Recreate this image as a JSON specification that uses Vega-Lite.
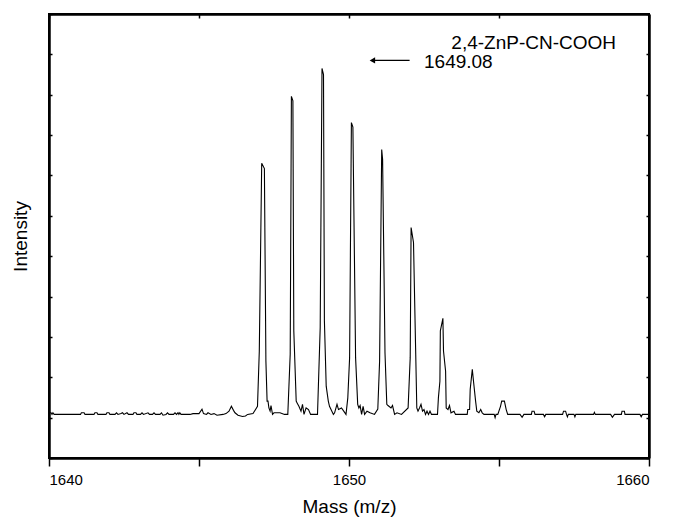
{
  "$schema": "https://vega.github.io/schema/vega-lite/v6.json",
  "width": 600,
  "height": 444,
  "autosize": {"type": "none"},
  "padding": {"left": 49, "top": 14, "right": 24, "bottom": 67},
  "background": "white",
  "config": {
    "font": "Liberation Sans",
    "view": {"stroke": "black", "strokeWidth": 2},
    "axis": {"domain": true, "domainColor": "black", "domainWidth": 2.5, "grid": false, "tickColor": "black", "labelColor": "black", "titleColor": "black", "titleFontWeight": "normal"}
  },
  "resolve": {"axis": {"x": "independent", "y": "independent"}},
  "layer": [
    {
      "data": {"values": [
        {"m":1640.0,"v":1.08},{"m":1640.03,"v":1.12},{"m":1640.07,"v":1.12},{"m":1640.1,"v":1.08},{"m":1640.13,"v":1.12},{"m":1640.17,"v":1.08},{"m":1640.5,"v":1.08},{"m":1641.05,"v":1.08},{"m":1641.08,"v":1.12},{"m":1641.17,"v":1.12},{"m":1641.2,"v":1.08},{"m":1641.5,"v":1.08},{"m":1641.53,"v":1.12},{"m":1641.6,"v":1.12},{"m":1641.63,"v":1.08},{"m":1641.9,"v":1.08},{"m":1641.93,"v":1.12},{"m":1642.0,"v":1.12},{"m":1642.03,"v":1.08},{"m":1642.2,"v":1.08},{"m":1642.25,"v":1.12},{"m":1642.3,"v":1.08},{"m":1642.4,"v":1.1},{"m":1642.45,"v":1.12},{"m":1642.5,"v":1.08},{"m":1642.6,"v":1.12},{"m":1642.65,"v":1.08},{"m":1642.8,"v":1.08},{"m":1642.83,"v":1.12},{"m":1642.9,"v":1.12},{"m":1642.93,"v":1.08},{"m":1643.05,"v":1.08},{"m":1643.1,"v":1.12},{"m":1643.15,"v":1.08},{"m":1643.3,"v":1.12},{"m":1643.35,"v":1.08},{"m":1643.45,"v":1.08},{"m":1643.5,"v":1.12},{"m":1643.55,"v":1.08},{"m":1643.7,"v":1.08},{"m":1643.75,"v":1.12},{"m":1643.8,"v":1.06},{"m":1643.9,"v":1.08},{"m":1643.95,"v":1.12},{"m":1644.0,"v":1.08},{"m":1644.15,"v":1.08},{"m":1644.2,"v":1.12},{"m":1644.25,"v":1.08},{"m":1644.3,"v":1.12},{"m":1644.33,"v":1.08},{"m":1644.36,"v":1.12},{"m":1644.4,"v":1.08},{"m":1644.7,"v":1.08},{"m":1644.8,"v":1.1},{"m":1645.0,"v":1.1},{"m":1645.1,"v":1.21},{"m":1645.15,"v":1.1},{"m":1645.25,"v":1.08},{"m":1645.3,"v":1.12},{"m":1645.4,"v":1.08},{"m":1645.5,"v":1.1},{"m":1645.6,"v":1.06},{"m":1645.8,"v":1.08},{"m":1645.9,"v":1.1},{"m":1646.0,"v":1.16},{"m":1646.08,"v":1.28},{"m":1646.15,"v":1.18},{"m":1646.2,"v":1.12},{"m":1646.3,"v":1.06},{"m":1646.45,"v":1.03},{"m":1646.55,"v":1.04},{"m":1646.62,"v":1.08},{"m":1646.8,"v":1.1},{"m":1646.95,"v":1.28},
        {"m":1647.01,"v":2.65},{"m":1647.09,"v":7.3},{"m":1647.18,"v":7.17},{"m":1647.23,"v":2.4},{"m":1647.27,"v":1.41},{"m":1647.3,"v":1.41},{"m":1647.33,"v":1.24},{"m":1647.37,"v":1.16},{"m":1647.4,"v":1.3},{"m":1647.45,"v":1.08},{"m":1647.5,"v":1.12},{"m":1647.7,"v":1.12},{"m":1647.85,"v":1.08},{"m":1647.96,"v":1.08},
        {"m":1648.04,"v":2.57},{"m":1648.08,"v":8.96},{"m":1648.13,"v":8.85},{"m":1648.16,"v":3.15},{"m":1648.24,"v":1.41},{"m":1648.27,"v":1.36},{"m":1648.33,"v":1.28},{"m":1648.4,"v":1.16},{"m":1648.45,"v":1.33},{"m":1648.5,"v":1.08},{"m":1648.57,"v":1.24},{"m":1648.65,"v":1.2},{"m":1648.72,"v":1.08},{"m":1648.95,"v":1.08},
        {"m":1649.04,"v":3.23},{"m":1649.1,"v":9.65},{"m":1649.15,"v":9.5},{"m":1649.18,"v":3.4},{"m":1649.24,"v":1.78},{"m":1649.31,"v":1.41},{"m":1649.35,"v":1.28},{"m":1649.48,"v":1.08},{"m":1649.52,"v":1.12},{"m":1649.6,"v":1.33},{"m":1649.65,"v":1.2},{"m":1649.75,"v":1.24},{"m":1649.9,"v":1.08},
        {"m":1649.96,"v":1.49},{"m":1650.02,"v":2.48},{"m":1650.08,"v":8.31},{"m":1650.13,"v":8.2},{"m":1650.22,"v":2.48},{"m":1650.29,"v":1.33},{"m":1650.33,"v":1.24},{"m":1650.37,"v":1.3},{"m":1650.42,"v":1.08},{"m":1650.47,"v":1.28},{"m":1650.52,"v":1.08},{"m":1650.6,"v":1.16},{"m":1650.7,"v":1.12},{"m":1650.85,"v":1.08},{"m":1650.96,"v":1.21},
        {"m":1651.02,"v":2.4},{"m":1651.09,"v":7.64},{"m":1651.12,"v":7.4},{"m":1651.2,"v":2.6},{"m":1651.26,"v":1.33},{"m":1651.3,"v":1.3},{"m":1651.4,"v":1.24},{"m":1651.45,"v":1.3},{"m":1651.52,"v":1.08},{"m":1651.6,"v":1.12},{"m":1651.75,"v":1.08},{"m":1651.97,"v":1.24},
        {"m":1652.04,"v":2.48},{"m":1652.07,"v":5.71},{"m":1652.15,"v":5.34},{"m":1652.22,"v":2.73},{"m":1652.26,"v":1.24},{"m":1652.3,"v":1.16},{"m":1652.35,"v":1.24},{"m":1652.4,"v":1.33},{"m":1652.45,"v":1.16},{"m":1652.5,"v":1.2},{"m":1652.55,"v":1.08},{"m":1652.6,"v":1.16},{"m":1652.65,"v":1.08},{"m":1652.7,"v":1.16},{"m":1652.75,"v":1.08},{"m":1652.95,"v":1.08},
        {"m":1652.98,"v":1.49},{"m":1653.03,"v":1.9},{"m":1653.045,"v":3.15},{"m":1653.13,"v":3.46},{"m":1653.15,"v":2.65},{"m":1653.22,"v":2.15},{"m":1653.24,"v":1.24},{"m":1653.3,"v":1.2},{"m":1653.35,"v":1.3},{"m":1653.4,"v":1.12},{"m":1653.5,"v":1.16},{"m":1653.55,"v":1.08},{"m":1653.94,"v":1.08},
        {"m":1653.96,"v":1.2},{"m":1654.02,"v":1.2},{"m":1654.04,"v":1.7},{"m":1654.11,"v":2.2},{"m":1654.15,"v":1.9},{"m":1654.22,"v":1.41},{"m":1654.26,"v":1.16},{"m":1654.33,"v":1.12},{"m":1654.39,"v":1.2},{"m":1654.44,"v":1.12},{"m":1654.5,"v":1.08},{"m":1654.84,"v":1.08},{"m":1654.87,"v":1.0},{"m":1654.9,"v":1.08},{"m":1654.96,"v":1.08},
        {"m":1655.05,"v":1.28},{"m":1655.09,"v":1.41},{"m":1655.18,"v":1.41},{"m":1655.24,"v":1.2},{"m":1655.29,"v":1.08},{"m":1655.7,"v":1.08},{"m":1655.77,"v":1.01},{"m":1655.83,"v":1.08},{"m":1656.08,"v":1.08},{"m":1656.1,"v":1.16},{"m":1656.17,"v":1.16},{"m":1656.2,"v":1.08},{"m":1656.48,"v":1.08},{"m":1656.52,"v":1.02},{"m":1656.56,"v":1.08},{"m":1657.12,"v":1.08},{"m":1657.15,"v":1.16},{"m":1657.22,"v":1.16},{"m":1657.25,"v":1.08},{"m":1657.28,"v":1.02},{"m":1657.31,"v":1.08},{"m":1657.5,"v":1.08},{"m":1657.53,"v":1.02},{"m":1657.56,"v":1.08},{"m":1658.15,"v":1.08},{"m":1658.18,"v":1.13},{"m":1658.21,"v":1.08},{"m":1658.72,"v":1.08},{"m":1658.78,"v":1.01},{"m":1658.85,"v":1.08},{"m":1659.08,"v":1.08},{"m":1659.1,"v":1.16},{"m":1659.18,"v":1.16},{"m":1659.2,"v":1.08},{"m":1659.7,"v":1.08},{"m":1659.74,"v":1.02},{"m":1659.78,"v":1.08},{"m":1660.0,"v":1.08}
      ]},
      "mark": {"type": "line", "color": "black", "strokeWidth": 1.1, "clip": true},
      "encoding": {
        "x": {"field": "m", "type": "quantitative", "scale": {"domain": [1640, 1660], "nice": false, "zero": false},
              "axis": {"orient": "bottom", "values": [1640, 1645, 1650, 1655, 1660], "labelExpr": "datum.value % 10 == 0 ? datum.label : ''", "format": "d", "tickSize": 8, "tickWidth": 1.5, "labelFontSize": 15, "labelPadding": 6, "title": "Mass (m/z)", "titleFontSize": 19, "titlePadding": 10}},
        "y": {"field": "v", "type": "quantitative", "scale": {"domain": [0, 11], "nice": false, "zero": false},
              "axis": {"orient": "left", "values": [0,1,2,3,4,5,6,7,8,9,10,11], "labels": false, "tickSize": -3, "tickWidth": 1.5, "title": "Intensity", "titleFontSize": 19, "titlePadding": 18}}
      }
    },
    {
      "data": {"values": [{"m1": 1650.78, "m2": 1652.02, "v": 9.85}]},
      "mark": {"type": "rule", "color": "black", "strokeWidth": 1.2},
      "encoding": {
        "x": {"field": "m1", "type": "quantitative", "scale": {"domain": [1640, 1660], "nice": false, "zero": false},
              "axis": {"orient": "top", "values": [1640, 1645, 1650, 1655, 1660], "labels": false, "tickSize": -4, "tickWidth": 1.5, "title": null}},
        "x2": {"field": "m2"},
        "y": {"field": "v", "type": "quantitative", "scale": {"domain": [0, 11], "nice": false, "zero": false},
              "axis": {"orient": "right", "values": [0,1,2,3,4,5,6,7,8,9,10,11], "labels": false, "tickSize": -3, "tickWidth": 1.5, "title": null}}
      }
    },
    {
      "data": {"values": [{"m": 1650.78, "v": 9.85}]},
      "mark": {"type": "point", "shape": "triangle-left", "filled": true, "color": "black", "opacity": 1, "size": 40},
      "encoding": {
        "x": {"field": "m", "type": "quantitative", "scale": {"domain": [1640, 1660], "nice": false, "zero": false}, "axis": null},
        "y": {"field": "v", "type": "quantitative", "scale": {"domain": [0, 11], "nice": false, "zero": false}, "axis": null}
      }
    },
    {
      "data": {"values": [
        {"m": 1652.5, "v": 9.8, "label": "1649.08"}
      ]},
      "mark": {"type": "text", "align": "left", "baseline": "middle", "fontSize": 19, "color": "black"},
      "encoding": {
        "x": {"field": "m", "type": "quantitative", "scale": {"domain": [1640, 1660], "nice": false, "zero": false}, "axis": null},
        "y": {"field": "v", "type": "quantitative", "scale": {"domain": [0, 11], "nice": false, "zero": false}, "axis": null},
        "text": {"field": "label"}
      }
    },
    {
      "data": {"values": [
        {"m": 1658.9, "v": 10.28, "label": "2,4-ZnP-CN-COOH"}
      ]},
      "mark": {"type": "text", "align": "right", "baseline": "middle", "fontSize": 19, "color": "black"},
      "encoding": {
        "x": {"field": "m", "type": "quantitative", "scale": {"domain": [1640, 1660], "nice": false, "zero": false}, "axis": null},
        "y": {"field": "v", "type": "quantitative", "scale": {"domain": [0, 11], "nice": false, "zero": false}, "axis": null},
        "text": {"field": "label"}
      }
    }
  ]
}
